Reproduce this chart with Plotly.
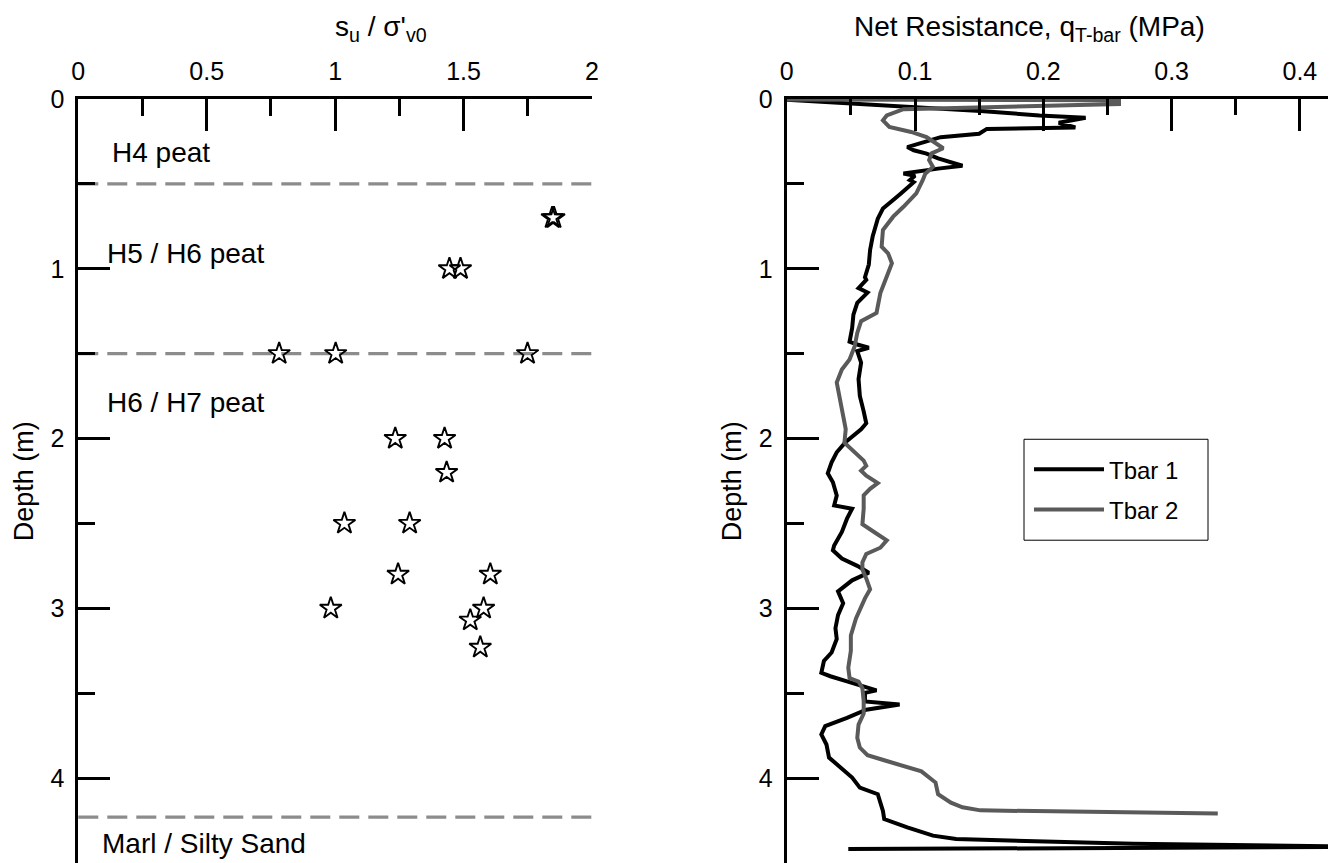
import plotly.graph_objects as go

# ---------------- data ----------------
# left panel: su / sigma'v0 versus depth (stars)
su_ratio = [1.845, 1.852, 1.445, 1.488, 0.782, 1.002, 1.749, 1.234, 1.426, 1.434,
            1.036, 1.290, 1.245, 1.604, 0.983, 1.578, 1.526, 1.565]
su_depth = [0.70, 0.70, 1.00, 1.00, 1.50, 1.50, 1.50, 2.00, 2.00, 2.20,
            2.50, 2.50, 2.80, 2.80, 3.00, 3.00, 3.07, 3.23]

# layer boundaries (m) and layer labels
layer_depths = [0.5, 1.5, 4.23]
layer_names = ["H4 peat", "H5 / H6 peat", "H6 / H7 peat", "Marl / Silty Sand"]
layer_label_x = [0.123, 0.105, 0.105, 0.085]
layer_label_depth = [0.315, 0.91, 1.785, 4.385]

# right panel: T-bar net resistance (MPa) versus depth (m)
tbar1_q = [0.0, 0.08, 0.151, 0.197, 0.233, 0.212, 0.225, 0.156, 0.150, 0.120,
           0.106, 0.094, 0.099, 0.109, 0.118, 0.137, 0.118, 0.091, 0.100, 0.096,
           0.099, 0.094, 0.089, 0.083, 0.075, 0.071, 0.069, 0.067, 0.065, 0.064,
           0.061, 0.062, 0.056, 0.063, 0.055, 0.052, 0.051, 0.049, 0.055, 0.064,
           0.055, 0.058, 0.056, 0.057, 0.060, 0.062, 0.058, 0.046, 0.039, 0.035,
           0.032, 0.036, 0.039, 0.037, 0.051, 0.047, 0.043, 0.037, 0.036, 0.043,
           0.055, 0.064, 0.051, 0.040, 0.044, 0.040, 0.038, 0.039, 0.035, 0.029,
           0.027, 0.034, 0.047, 0.060, 0.070, 0.061, 0.061, 0.088, 0.062, 0.047,
           0.030, 0.027, 0.031, 0.033, 0.042, 0.051, 0.057, 0.071, 0.075, 0.076,
           0.094, 0.114, 0.132, 0.166, 0.270, 0.460, 0.048]
tbar1_depth = [0.005, 0.04, 0.07, 0.097, 0.11, 0.14, 0.168, 0.176, 0.205, 0.225,
               0.255, 0.283, 0.302, 0.322, 0.35, 0.393, 0.41, 0.439, 0.452, 0.478,
               0.49, 0.52, 0.556, 0.595, 0.645, 0.705, 0.76, 0.81, 0.889, 0.975,
               1.05, 1.065, 1.114, 1.14, 1.201, 1.27, 1.35, 1.43, 1.446, 1.465,
               1.485, 1.553, 1.65, 1.749, 1.84, 1.91, 1.945, 2.02, 2.081, 2.14,
               2.205, 2.257, 2.335, 2.394, 2.413, 2.472, 2.55, 2.63, 2.658, 2.707,
               2.75, 2.79, 2.835, 2.9, 2.97, 3.04, 3.117, 3.18, 3.26, 3.31,
               3.38, 3.40, 3.43, 3.459, 3.483, 3.498, 3.548, 3.567, 3.597, 3.645,
               3.694, 3.743, 3.802, 3.879, 3.938, 3.997, 4.056, 4.095, 4.193, 4.241,
               4.29, 4.339, 4.359, 4.366, 4.387, 4.405, 4.418]

tbar2_q = [0.0, 0.259, 0.259, 0.091, 0.078, 0.075, 0.080, 0.097, 0.109, 0.122,
           0.113, 0.111, 0.114, 0.108, 0.106, 0.101, 0.091, 0.083, 0.075, 0.074,
           0.079, 0.082, 0.078, 0.073, 0.070, 0.058, 0.055, 0.053, 0.049, 0.043,
           0.039, 0.041, 0.044, 0.046, 0.045, 0.053, 0.060, 0.062, 0.058, 0.062,
           0.071, 0.065, 0.060, 0.060, 0.059, 0.069, 0.078, 0.073, 0.062, 0.059,
           0.059, 0.062, 0.065, 0.061, 0.058, 0.054, 0.050, 0.050, 0.048, 0.049,
           0.056, 0.059, 0.060, 0.060, 0.056, 0.055, 0.057, 0.063, 0.076, 0.092,
           0.105, 0.116, 0.118, 0.128, 0.137, 0.151, 0.244, 0.336]
tbar2_depth = [0.003, 0.008, 0.03, 0.06, 0.097, 0.126, 0.165, 0.194, 0.224, 0.29,
               0.32, 0.36, 0.40, 0.44, 0.478, 0.556, 0.635, 0.693, 0.772, 0.87,
               0.909, 0.967, 1.045, 1.143, 1.26, 1.309, 1.378, 1.456, 1.534, 1.593,
               1.67, 1.749, 1.847, 1.945, 2.025, 2.081, 2.13, 2.16, 2.189, 2.218,
               2.262, 2.296, 2.335, 2.413, 2.505, 2.555, 2.60, 2.643, 2.68, 2.73,
               2.77, 2.824, 2.888, 2.941, 2.99, 3.06, 3.16, 3.25, 3.35, 3.411,
               3.431, 3.47, 3.548, 3.62, 3.685, 3.763, 3.82, 3.865, 3.895, 3.932,
               3.96, 4.026, 4.095, 4.145, 4.172, 4.19, 4.20, 4.209]

su_ticks = [0, 0.5, 1, 1.5, 2]
q_ticks = [0, 0.1, 0.2, 0.3, 0.4]
depth_ticks = [0, 1, 2, 3, 4]

# ---------------- figure ----------------
FONT = "Liberation Sans, Arial, sans-serif"
W, H = 1336, 863
OFF = 8            # page body margin of the browser
TOP = 98.5 - OFF   # plot top inside the figure
BOT = OFF
PH = H - TOP - BOT


def px(xs):        # screen pixel x -> paper fraction
    return (xs - OFF) / W


def py(ys):        # screen pixel y -> paper fraction
    return 1 - (ys - OFF - TOP) / PH


fig = go.Figure()

fig.add_trace(go.Scatter(
    x=su_ratio, y=su_depth, mode="markers", xaxis="x", yaxis="y",
    marker=dict(symbol="star-open", size=16.5, color="black",
                line=dict(color="black", width=1.9)),
    showlegend=False, hoverinfo="x+y"))

fig.add_trace(go.Scatter(
    x=tbar1_q, y=tbar1_depth, mode="lines", name="Tbar 1", xaxis="x2", yaxis="y2",
    line=dict(color="black", width=4), legendgroup="a"))
fig.add_trace(go.Scatter(
    x=tbar2_q, y=tbar2_depth, mode="lines", name="Tbar 2", xaxis="x2", yaxis="y2",
    line=dict(color="#5a5a5a", width=4), legendgroup="b"))

for d in layer_depths:
    fig.add_shape(type="line", xref="x domain", yref="y", x0=0, x1=1.016,
                  y0=d, y1=d, layer="below",
                  line=dict(color="#8c8c8c", width=3.4, dash="20px,9px"))

# legend frame
fig.add_shape(type="rect", xref="paper", yref="paper",
              x0=px(1024), x1=px(1208), y0=py(540), y1=py(439), layer="below",
              line=dict(color="black", width=1), fillcolor="white")

for name, lx, ld in zip(layer_names, layer_label_x, layer_label_depth):
    fig.add_annotation(x=lx, y=ld, xref="x", yref="y", text=name, showarrow=False,
                       xanchor="left", yanchor="middle",
                       font=dict(family=FONT, size=28, color="black"))

# axis titles
fig.add_annotation(x=px(381), y=py(28), xref="paper", yref="paper",
                   text="s<sub>u</sub> / σ'<sub>v0</sub>", showarrow=False,
                   xanchor="center", yanchor="middle",
                   font=dict(family=FONT, size=28, color="black"))
fig.add_annotation(x=px(1030), y=py(28), xref="paper", yref="paper",
                   text="Net Resistance, q<sub>T-bar</sub> (MPa)", showarrow=False,
                   xanchor="center", yanchor="middle",
                   font=dict(family=FONT, size=28, color="black"))
for xs in (24, 732):
    fig.add_annotation(x=px(xs), y=py(481), xref="paper", yref="paper",
                       text="Depth (m)", textangle=-90, showarrow=False,
                       xanchor="center", yanchor="middle",
                       font=dict(family=FONT, size=27, color="black"))

axis_common = dict(showline=True, linecolor="black", linewidth=3, ticks="inside",
                   ticklen=32, tickwidth=3, tickcolor="black", showgrid=False,
                   zeroline=False, automargin=False, ticklabelstandoff=6,
                   tickfont=dict(family=FONT, size=25, color="black"))
minor_common = dict(ticks="inside", ticklen=17, tickwidth=3, tickcolor="black")

q_right = (W + OFF - 786.7) / 1283.0   # value at right edge of the figure

fig.update_layout(
    width=W, height=H, template="none",
    paper_bgcolor="white", plot_bgcolor="white",
    margin=dict(l=0, r=0, t=TOP, b=BOT),
    font=dict(family=FONT, color="black"),
    xaxis=dict(domain=[px(78.3), px(592)], range=[0, 2], side="top", anchor="y",
               tickvals=su_ticks, ticktext=[f"{v:g}" for v in su_ticks],
               minor=dict(dtick=0.25, **minor_common), **axis_common),
    yaxis=dict(domain=[0, 1], range=[4.5, 0], anchor="x", tickvals=depth_ticks,
               minor=dict(dtick=0.5, **minor_common), **axis_common),
    xaxis2=dict(domain=[px(786.7), 1.0], range=[0, q_right], side="top", anchor="y2",
                tickvals=q_ticks, ticktext=[f"{v:g}" for v in q_ticks],
                minor=dict(dtick=0.05, ticks="inside", ticklen=16, tickwidth=3,
                           tickcolor="black"), **axis_common),
    yaxis2=dict(domain=[0, 1], range=[4.5, 0], anchor="x2", tickvals=depth_ticks,
                minor=dict(dtick=0.5, **minor_common), **axis_common),
    legend=dict(x=px(1029), y=py(447), xanchor="left", yanchor="top",
                bgcolor="rgba(0,0,0,0)", borderwidth=0,
                font=dict(family=FONT, size=24, color="black"),
                itemwidth=70, tracegroupgap=6),
    showlegend=True,
)

fig.write_html("out.html")
